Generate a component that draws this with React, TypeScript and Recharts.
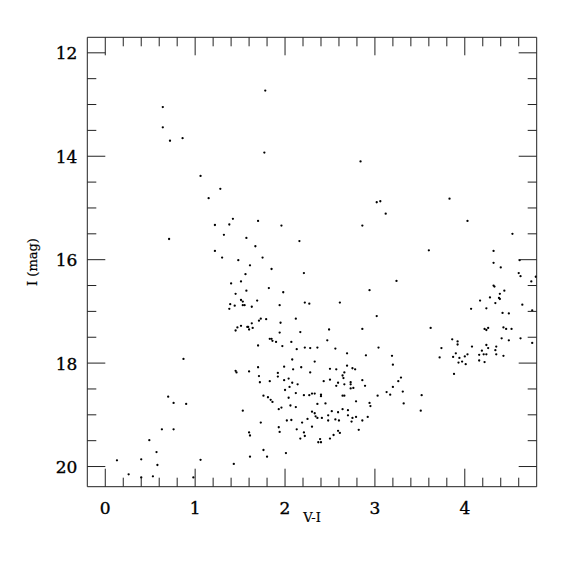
import React from 'react';
import { ScatterChart, Scatter, XAxis, YAxis } from 'recharts';

// V-I colour of each star
const viColor: number[] = [
  1.78, 0.64, 0.64, 0.72, 0.86, 1.77, 1.06, 1.28, 1.15, 1.42, 1.22, 1.38, 1.70,
  2.84, 3.02, 3.06, 3.12, 3.83, 4.03, 1.96, 2.86,
  0.71, 1.32, 1.57, 1.67, 1.22, 1.30, 1.75, 1.48, 1.61, 1.85, 1.56, 1.51, 1.40, 1.82, 1.57, 1.45,
  1.51, 1.53, 1.69, 1.39, 1.44, 1.53, 1.55, 1.63, 1.38, 1.94, 1.73, 1.71, 1.79, 1.63, 1.51, 1.58,
  1.59, 1.64, 1.47, 1.45, 1.60, 1.94, 1.83, 1.85, 1.86, 1.90, 1.70, 0.87, 1.70, 1.45, 1.46, 1.60,
  1.71, 1.92, 1.92, 1.72, 1.83, 1.76, 1.81, 1.84, 1.86, 1.93, 1.53, 1.73, 1.93, 1.94, 1.60, 1.61,
  1.76, 1.61, 1.80, 0.70, 0.76, 0.90, 0.63, 0.76, 0.49, 0.57, 0.40, 0.58, 0.13, 0.26, 0.40, 0.53,
  0.98, 1.06, 1.43,
  2.16, 2.21, 3.24, 2.94, 1.98, 2.22, 2.27, 2.61, 3.02, 2.12, 1.95, 2.49, 2.86, 2.17, 2.07, 1.97,
  2.47, 2.13, 2.22, 2.28, 2.36, 2.56, 3.04, 2.69, 2.90, 3.19, 2.08, 2.33, 3.20, 1.99, 2.09, 2.18,
  2.69, 2.50, 2.57, 2.75, 2.78, 2.28, 2.66, 2.64, 2.65, 2.50, 2.43, 1.99, 2.04, 2.08, 2.14, 2.59,
  2.66, 2.73, 2.73, 2.86, 2.57, 2.89, 2.05, 2.00, 2.12, 2.73, 2.76, 3.26, 3.20, 3.17, 3.13, 3.03,
  2.21, 2.27, 2.30, 2.33, 2.40, 2.40, 2.64, 2.66, 2.04, 1.96, 2.06, 2.12, 2.36, 2.45, 2.79, 2.94,
  2.95,
  2.30, 2.33, 2.34, 2.36, 2.41, 2.48, 2.48, 2.52, 2.59, 2.56, 2.60, 2.64, 2.70, 2.70, 2.75, 2.79,
  2.74, 2.86, 2.92, 2.02, 2.07, 2.19, 2.25, 2.30, 2.13, 2.21, 2.22, 2.17, 2.37, 2.40, 2.39, 2.50,
  2.54, 2.59, 2.61, 2.82, 2.01,
  4.53, 3.60, 4.32, 4.61, 4.32, 4.40, 4.60, 4.62, 4.74, 4.32, 4.33, 4.44, 4.39, 4.28, 4.38, 4.39,
  4.17, 4.34, 4.64, 4.24, 4.07, 4.75, 4.42, 4.49, 3.62, 4.22, 4.24, 4.26, 4.43, 4.46, 4.52, 4.41,
  4.49, 4.62, 4.75, 3.86, 3.92, 3.92, 3.74, 4.08, 4.24, 4.26, 4.35, 4.34, 4.19, 3.90, 4.03, 4.00,
  4.16, 4.21, 4.24, 4.35, 4.43, 3.72, 3.87, 3.94, 3.97, 3.93, 4.01, 4.16, 4.22, 3.88, 3.29, 3.31,
  3.52, 3.32, 3.51, 4.79,
];

// I magnitude of each star
const iMag: number[] = [
  12.73, 13.05, 13.44, 13.70, 13.65, 13.93, 14.38, 14.63, 14.81, 15.21, 15.33, 15.32, 15.25,
  14.10, 14.89, 14.87, 15.11, 14.82, 15.25, 15.34, 15.34,
  15.60, 15.52, 15.58, 15.74, 15.83, 15.96, 15.96, 16.01, 16.11, 16.18, 16.28, 16.42, 16.46, 16.55, 16.60, 16.66,
  16.78, 16.81, 16.79, 16.86, 16.89, 16.88, 16.88, 16.91, 16.95, 16.88, 17.14, 17.18, 17.15, 17.23, 17.28, 17.30,
  17.30, 17.32, 17.31, 17.37, 17.35, 17.41, 17.53, 17.53, 17.57, 17.59, 17.66, 17.92, 18.08, 18.15, 18.18, 18.16,
  18.25, 18.19, 18.26, 18.37, 18.35, 18.63, 18.66, 18.71, 18.75, 18.89, 18.92, 19.15, 19.24, 19.33, 19.34, 19.40,
  19.68, 19.81, 19.81, 18.65, 18.77, 18.79, 19.28, 19.28, 19.49, 19.72, 19.86, 19.97, 19.88, 20.15, 20.21, 20.19,
  20.21, 19.87, 19.95,
  15.64, 16.26, 16.41, 16.59, 16.63, 16.83, 16.85, 16.83, 17.09, 17.14, 17.22, 17.35, 17.34, 17.40, 17.59, 17.67,
  17.56, 17.73, 17.70, 17.71, 17.70, 17.72, 17.70, 17.81, 17.85, 17.86, 17.93, 17.97, 18.03, 18.07, 18.12, 18.08,
  18.05, 18.11, 18.12, 18.10, 18.12, 18.18, 18.18, 18.24, 18.29, 18.32, 18.35, 18.33, 18.30, 18.38, 18.41, 18.38,
  18.41, 18.37, 18.41, 18.33, 18.44, 18.44, 18.46, 18.52, 18.58, 18.49, 18.48, 18.35, 18.46, 18.61, 18.56, 18.63,
  18.62, 18.62, 18.59, 18.59, 18.61, 18.64, 18.63, 18.63, 18.67, 18.86, 18.82, 18.85, 18.79, 18.78, 18.74, 18.77,
  18.83,
  18.94, 18.97, 19.03, 19.06, 19.06, 19.01, 19.11, 18.93, 18.95, 19.09, 19.11, 18.89, 18.91, 19.01, 19.06, 19.04,
  19.13, 19.11, 19.04, 19.11, 19.10, 19.15, 19.08, 19.23, 19.28, 19.34, 19.41, 19.46, 19.53, 19.53, 19.47, 19.46,
  19.39, 19.31, 19.35, 19.29, 19.74,
  15.50, 15.82, 15.83, 16.01, 16.06, 16.15, 16.26, 16.32, 16.42, 16.50, 16.52, 16.60, 16.66, 16.73, 16.74, 16.76,
  16.79, 16.84, 16.87, 16.94, 16.95, 16.98, 17.03, 17.04, 17.32, 17.34, 17.36, 17.32, 17.31, 17.34, 17.34, 17.52,
  17.56, 17.52, 17.61, 17.54, 17.58, 17.64, 17.71, 17.68, 17.65, 17.71, 17.68, 17.75, 17.76, 17.81, 17.83, 17.87,
  17.84, 17.83, 17.83, 17.83, 17.86, 17.89, 17.88, 17.90, 17.97, 17.99, 18.02, 17.95, 17.98, 18.21, 18.28, 18.55,
  18.62, 18.78, 18.92, 16.33,
];

const xMajorTicks = [0, 1, 2, 3, 4];
const yMajorTicks = [12, 14, 16, 18, 20];
const xAllTicks = Array.from({ length: 24 }, (_, i) => Math.round(i * 2) / 10);
const yAllTicks = Array.from({ length: 17 }, (_, i) => 12 + i * 0.5);

const X_DOMAIN: [number, number] = [-0.2, 4.8];
const Y_DOMAIN: [number, number] = [11.7, 20.39];

const data = viColor.map((v, i) => ({ vi: v, imag: iMag[i] }));

const FONT = 'DejaVu Serif';
const MAJOR = 18;
const MINOR = 9;
const isMajor = (v: number, majors: number[]) => majors.some((m) => Math.abs(m - v) < 1e-6);

const BottomTick = (p: any) => {
  const { x, y, payload } = p;
  const maj = isMajor(payload.value, xMajorTicks);
  return (
    <g>
      <line x1={x} x2={x} y1={y} y2={y - (maj ? MAJOR : MINOR)} stroke="#222" strokeWidth={1} />
      {maj && (
        <text x={x} y={y + 27} textAnchor="middle" fontFamily={FONT} fontSize={17} fill="#000" stroke="#000" strokeWidth={0.35}>
          {payload.value}
        </text>
      )}
    </g>
  );
};

const TopTick = (p: any) => {
  const { x, y, payload } = p;
  const maj = isMajor(payload.value, xMajorTicks);
  return <line x1={x} x2={x} y1={y} y2={y + (maj ? MAJOR : MINOR)} stroke="#222" strokeWidth={1} />;
};

const LeftTick = (p: any) => {
  const { x, y, payload } = p;
  const maj = isMajor(payload.value, yMajorTicks);
  return (
    <g>
      <line x1={x} x2={x + (maj ? MAJOR : MINOR)} y1={y} y2={y} stroke="#222" strokeWidth={1} />
      {maj && (
        <text x={x - 10} y={y + 6.5} textAnchor="end" fontFamily={FONT} fontSize={17} fill="#000" stroke="#000" strokeWidth={0.35}>
          {payload.value}
        </text>
      )}
    </g>
  );
};

const RightTick = (p: any) => {
  const { x, y, payload } = p;
  const maj = isMajor(payload.value, yMajorTicks);
  return <line x1={x} x2={x - (maj ? MAJOR : MINOR)} y1={y} y2={y} stroke="#222" strokeWidth={1} />;
};

const XLabel = (p: any) => {
  const vb = p.viewBox || {};
  return (
    <text x={vb.x + vb.width / 2} y={vb.y + 35} textAnchor="middle" fontFamily={FONT} fontSize={13} fill="#000" stroke="#000" strokeWidth={0.2}>
      V-I
    </text>
  );
};

const YLabel = (p: any) => {
  const vb = p.viewBox || {};
  const cx = vb.x + vb.width - 50;
  const cy = vb.y + vb.height / 2;
  return (
    <text
      x={cx}
      y={cy}
      transform={`rotate(-90, ${cx}, ${cy})`}
      textAnchor="middle"
      fontFamily={FONT}
      fontSize={13}
      fill="#000"
      stroke="#000"
      strokeWidth={0.2}
    >
      I (mag)
    </text>
  );
};

const Dot = (p: any) => <circle cx={p.cx} cy={p.cy} r={1.15} fill="#000" />;

export default function App() {
  return (
    <div style={{ position: 'absolute', left: 0, top: 0, width: 575, height: 575, background: '#fff' }}>
      <ScatterChart
        width={575}
        height={575}
        margin={{ top: 27.3, left: 27.3, right: 28.3, bottom: 38.3 }}
      >
        <XAxis
          xAxisId="b"
          dataKey="vi"
          type="number"
          orientation="bottom"
          domain={X_DOMAIN}
          allowDataOverflow
          ticks={xAllTicks}
          interval={0}
          height={50}
          tickSize={0}
          tickMargin={0}
          tickLine={false}
          tick={<BottomTick />}
          axisLine={{ stroke: '#222', strokeWidth: 1 }}
          label={<XLabel />}
        />
        <XAxis
          xAxisId="t"
          dataKey="vi"
          type="number"
          orientation="top"
          domain={X_DOMAIN}
          allowDataOverflow
          ticks={xAllTicks}
          interval={0}
          height={10}
          tickSize={0}
          tickMargin={0}
          tickLine={false}
          tick={<TopTick />}
          axisLine={{ stroke: '#222', strokeWidth: 1 }}
        />
        <YAxis
          yAxisId="l"
          dataKey="imag"
          type="number"
          orientation="left"
          reversed
          domain={Y_DOMAIN}
          allowDataOverflow
          ticks={yAllTicks}
          interval={0}
          width={60}
          tickSize={0}
          tickMargin={0}
          tickLine={false}
          tick={<LeftTick />}
          axisLine={{ stroke: '#222', strokeWidth: 1 }}
          label={<YLabel />}
        />
        <YAxis
          yAxisId="r"
          dataKey="imag"
          type="number"
          orientation="right"
          reversed
          domain={Y_DOMAIN}
          allowDataOverflow
          ticks={yAllTicks}
          interval={0}
          width={10}
          tickSize={0}
          tickMargin={0}
          tickLine={false}
          tick={<RightTick />}
          axisLine={{ stroke: '#222', strokeWidth: 1 }}
        />
        <Scatter data={data} xAxisId="b" yAxisId="l" shape={<Dot />} isAnimationActive={false} />
      </ScatterChart>
    </div>
  );
}
